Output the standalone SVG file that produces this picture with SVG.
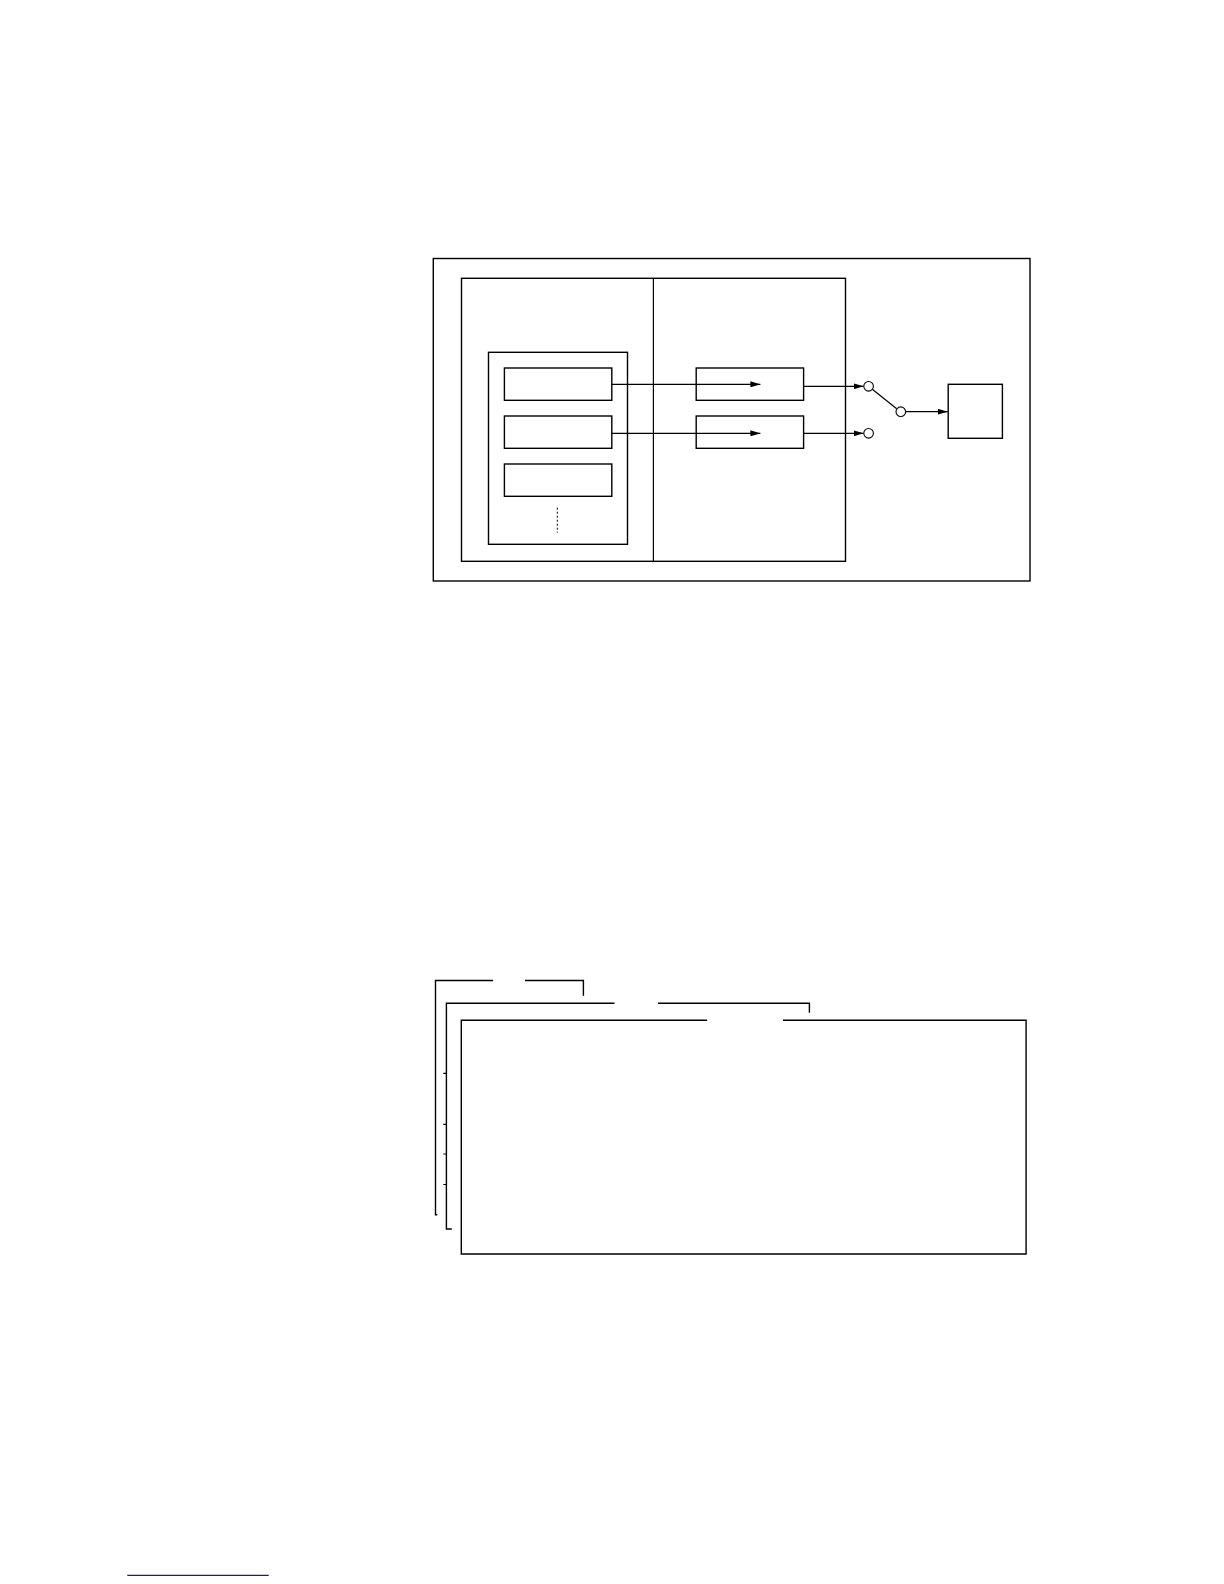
<svg xmlns="http://www.w3.org/2000/svg" width="1224" height="1584" viewBox="0 0 1224 1584">
<style>
.b{fill:none;stroke:#000;stroke-width:1.4}
.l{fill:none;stroke:#000;stroke-width:1.2}
.c{fill:#fff;stroke:#000;stroke-width:1.1}
</style>
<defs>
<marker id="ah" markerWidth="10" markerHeight="6" refX="10" refY="3" orient="auto" markerUnits="userSpaceOnUse">
<path d="M0,0 L10,3 L0,6 Z" fill="#000"/>
</marker>
</defs>
<rect width="1224" height="1584" fill="#fff"/>
<g id="outer"><rect class="b" x="433.3" y="258.5" width="596.7" height="322.5"/></g>
<g id="inner"><rect class="b" x="461.5" y="278.3" width="384" height="283"/><line class="l" x1="653.4" y1="278.3" x2="653.4" y2="561.3"/></g>
<g id="list"><rect class="b" x="488.5" y="352.3" width="139" height="192"/></g>
<g id="item1"><rect class="b" x="504.4" y="368" width="107.4" height="32.3"/></g>
<g id="item2"><rect class="b" x="504.4" y="416" width="107.4" height="32.3"/></g>
<g id="item3"><rect class="b" x="504.4" y="464" width="107.4" height="32.3"/></g>
<g id="dots"><line x1="557.3" y1="507.7" x2="557.3" y2="532.7" stroke="#000" stroke-width="1" stroke-dasharray="2,2"/></g>
<g id="proc1"><rect class="b" x="696.2" y="368" width="107.4" height="32.3"/></g>
<g id="proc2"><rect class="b" x="696.2" y="416" width="107.4" height="32.3"/></g>
<g id="target"><rect class="b" x="948.2" y="384.3" width="54.2" height="54"/></g>
<g id="connectors">
<line class="l" x1="611.8" y1="384.3" x2="760.4" y2="384.3" marker-end="url(#ah)"/>
<line class="l" x1="611.8" y1="433.3" x2="760.4" y2="433.3" marker-end="url(#ah)"/>
<line class="l" x1="803.6" y1="386.3" x2="863.6" y2="386.3" marker-end="url(#ah)"/>
<line class="l" x1="803.6" y1="433.3" x2="863.6" y2="433.3" marker-end="url(#ah)"/>
<line class="l" x1="872.3" y1="389.3" x2="896.7" y2="408.8"/>
<line class="l" x1="905.6" y1="411.7" x2="947.7" y2="411.7" marker-end="url(#ah)"/>
</g>
<g id="switch">
<circle class="c" cx="868.6" cy="386.3" r="4.8"/>
<circle class="c" cx="868.6" cy="433.3" r="4.8"/>
<circle class="c" cx="900.8" cy="411.7" r="4.8"/>
</g>
<g id="bracket1"><path class="b" d="M437.3,1214.7 H435.5 V980.5 H493.1 M525,980.5 H583.4 V995.7"/></g>
<g id="bracket2"><path class="b" d="M451.8,1229 H446.4 V1003.3 H614.5 M658,1003.3 H809.4 V1012.7"/>
<path class="l" d="M443.3,1073.3 H446.4 M443.3,1124.3 H446.4 M443.3,1154 H446.4 M443.3,1184.5 H446.4"/></g>
<g id="panel"><path class="b" d="M707.1,1020.3 H461.3 V1254 H1026.1 V1020.3 H783"/></g>
<line x1="127.3" y1="1575.3" x2="268.7" y2="1575.3" stroke="#1a1a8a" stroke-width="1.3"/>
</svg>
